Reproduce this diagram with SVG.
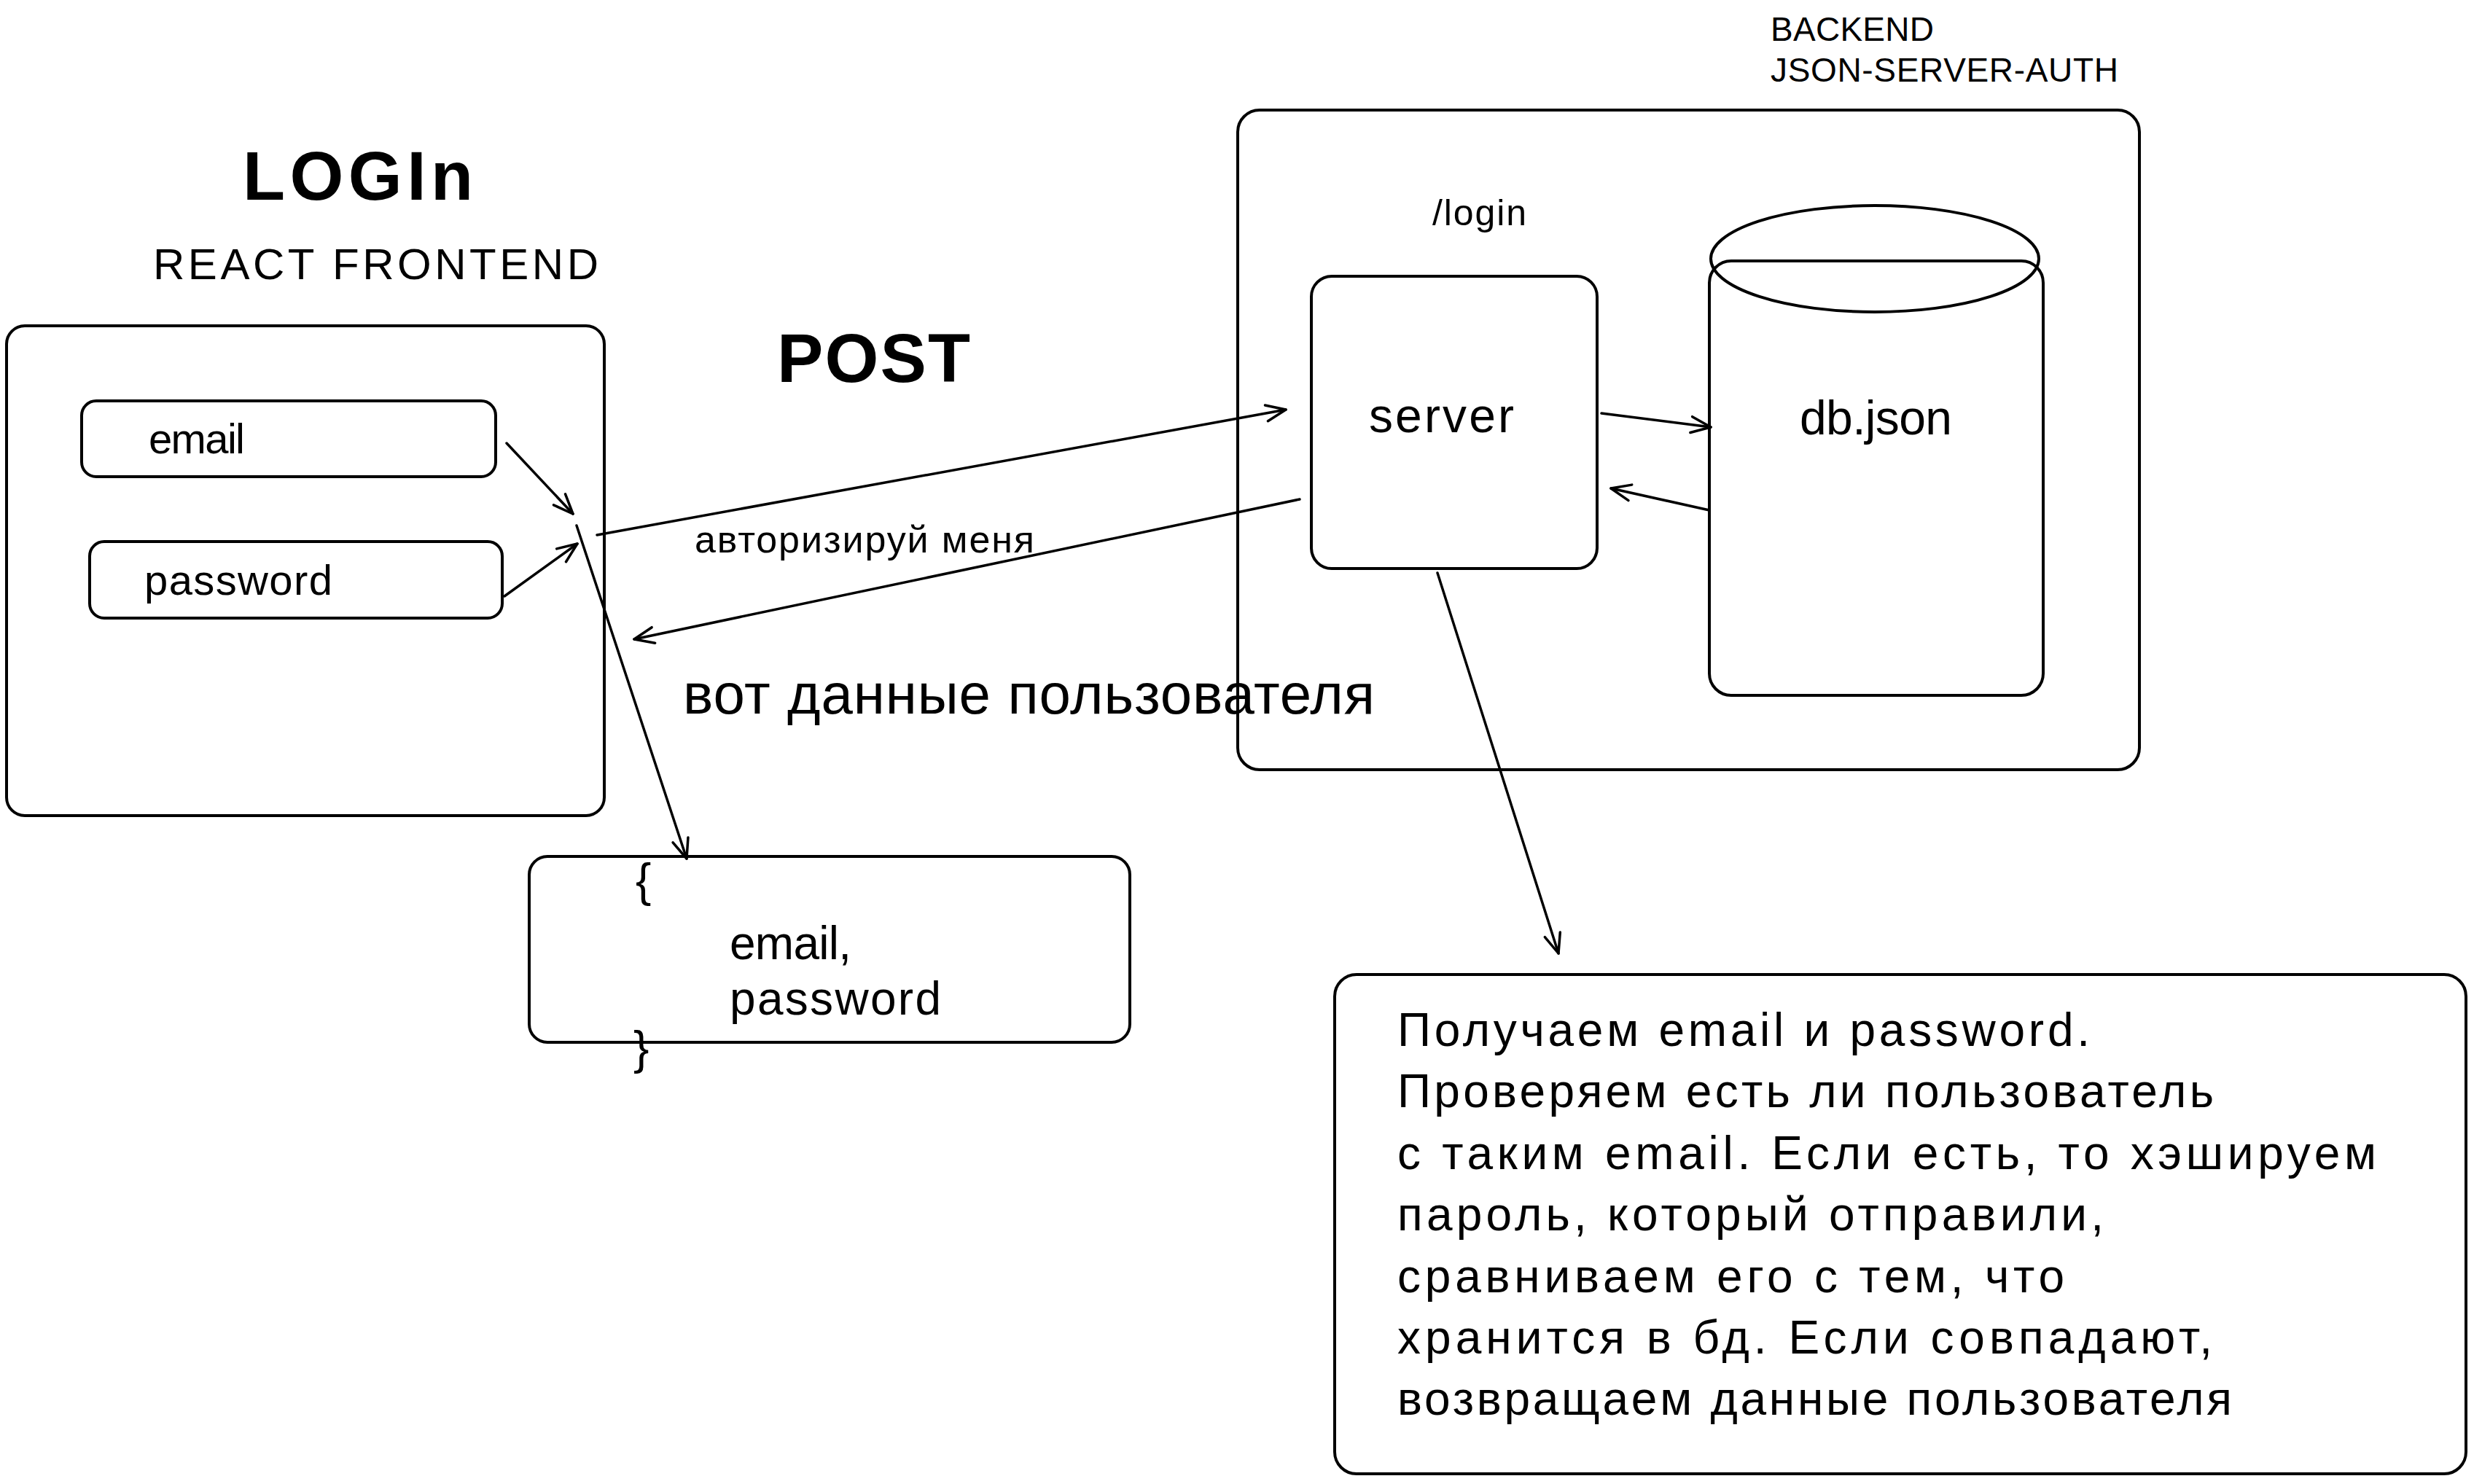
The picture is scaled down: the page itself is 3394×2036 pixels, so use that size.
<svg xmlns="http://www.w3.org/2000/svg" width="3394" height="2036" viewBox="0 0 3394 2036">
<style>
  .box { fill: none; stroke: #000; stroke-width: 4; }
  .ln { fill: none; stroke: #000; stroke-width: 3.5; stroke-linecap: round; }
  .t { font-family: "Liberation Sans", "DejaVu Sans", sans-serif; fill: #000; }
  .b { font-weight: bold; }
</style>
<defs>
  <marker id="ah" markerUnits="userSpaceOnUse" markerWidth="60" markerHeight="60" viewBox="-40 -30 60 60" refX="0" refY="0" orient="auto" overflow="visible">
    <path d="M-27,-11 L0,0 L-27,11" fill="none" stroke="#000" stroke-width="3.5" stroke-linecap="round" stroke-linejoin="round"/>
  </marker>
</defs>
<rect width="3394" height="2036" fill="#fff"/>

<g id="titles">
  <text class="t b" x="333" y="274" font-size="95" textLength="316">LOGIn</text>
  <text class="t" x="210" y="383" font-size="60" textLength="611">REACT FRONTEND</text>
  <text class="t b" x="1066" y="524" font-size="95" textLength="265">POST</text>
  <text class="t" x="2429" y="56" font-size="46" textLength="224">BACKEND</text>
  <text class="t" x="2429" y="112" font-size="46" textLength="477">JSON-SERVER-AUTH</text>
  <text class="t" x="1965" y="309" font-size="50" textLength="129">/login</text>
  <text class="t" x="953" y="758" font-size="52" textLength="466">авторизируй меня</text>
  <text class="t" x="937" y="979" font-size="78" textLength="949">вот данные пользователя</text>
</g>

<g id="frontend">
  <rect class="box" x="9" y="447" width="820" height="672" rx="25"/>
</g>
<g id="email-field">
  <rect class="box" x="112" y="550" width="568" height="104" rx="20"/>
  <text class="t" x="204" y="622" font-size="58" textLength="132">email</text>
</g>
<g id="password-field">
  <rect class="box" x="123" y="743" width="566" height="105" rx="20"/>
  <text class="t" x="198" y="816" font-size="58" textLength="258">password</text>
</g>

<g id="backend">
  <rect class="box" x="1698" y="151" width="1237" height="905" rx="30"/>
</g>
<g id="server">
  <rect class="box" x="1799" y="379" width="392" height="401" rx="28"/>
  <text class="t" x="1878" y="593" font-size="66" textLength="199">server</text>
</g>
<g id="db">
  <rect class="box" x="2345" y="358" width="458" height="596" rx="30"/>
  <ellipse class="box" cx="2572" cy="355" rx="225" ry="73"/>
  <text class="t" x="2469" y="596" font-size="66" textLength="209">db.json</text>
</g>

<g id="payload">
  <rect class="box" x="726" y="1175" width="824" height="255" rx="25"/>
  <text class="t" x="872" y="1230" font-size="64">{</text>
  <text class="t" x="1001" y="1316" font-size="64" textLength="167">email,</text>
  <text class="t" x="1001" y="1392" font-size="64" textLength="290">password</text>
  <text class="t" x="869" y="1460" font-size="64">}</text>
</g>

<g id="note">
  <rect class="box" x="1831" y="1337" width="1552" height="685" rx="30"/>
  <text class="t" font-size="64">
    <tspan x="1917" y="1435" textLength="950">Получаем email и password.</tspan>
    <tspan x="1917" y="1519" textLength="1120">Проверяем есть ли пользователь</tspan>
    <tspan x="1917" y="1604" textLength="1343">с таким email. Если есть, то хэшируем</tspan>
    <tspan x="1917" y="1688" textLength="969">пароль, который отправили,</tspan>
    <tspan x="1917" y="1773" textLength="915">сравниваем его с тем, что</tspan>
    <tspan x="1917" y="1857" textLength="1118">хранится в бд. Если совпадают,</tspan>
    <tspan x="1917" y="1941" textLength="1145">возвращаем данные пользователя</tspan>
  </text>
</g>

<g id="connectors">
  <line class="ln" x1="695" y1="608" x2="786" y2="705" marker-end="url(#ah)"/>
  <line class="ln" x1="692" y1="818" x2="792" y2="746" marker-end="url(#ah)"/>
  <line class="ln" x1="791" y1="721" x2="942" y2="1178" marker-end="url(#ah)"/>
  <line class="ln" x1="819" y1="734" x2="1764" y2="562" marker-end="url(#ah)"/>
  <line class="ln" x1="1783" y1="685" x2="870" y2="877" marker-end="url(#ah)"/>
  <line class="ln" x1="2197" y1="567" x2="2347" y2="586" marker-end="url(#ah)"/>
  <line class="ln" x1="2345" y1="700" x2="2210" y2="670" marker-end="url(#ah)"/>
  <line class="ln" x1="1972" y1="786" x2="2138" y2="1308" marker-end="url(#ah)"/>
</g>
</svg>
